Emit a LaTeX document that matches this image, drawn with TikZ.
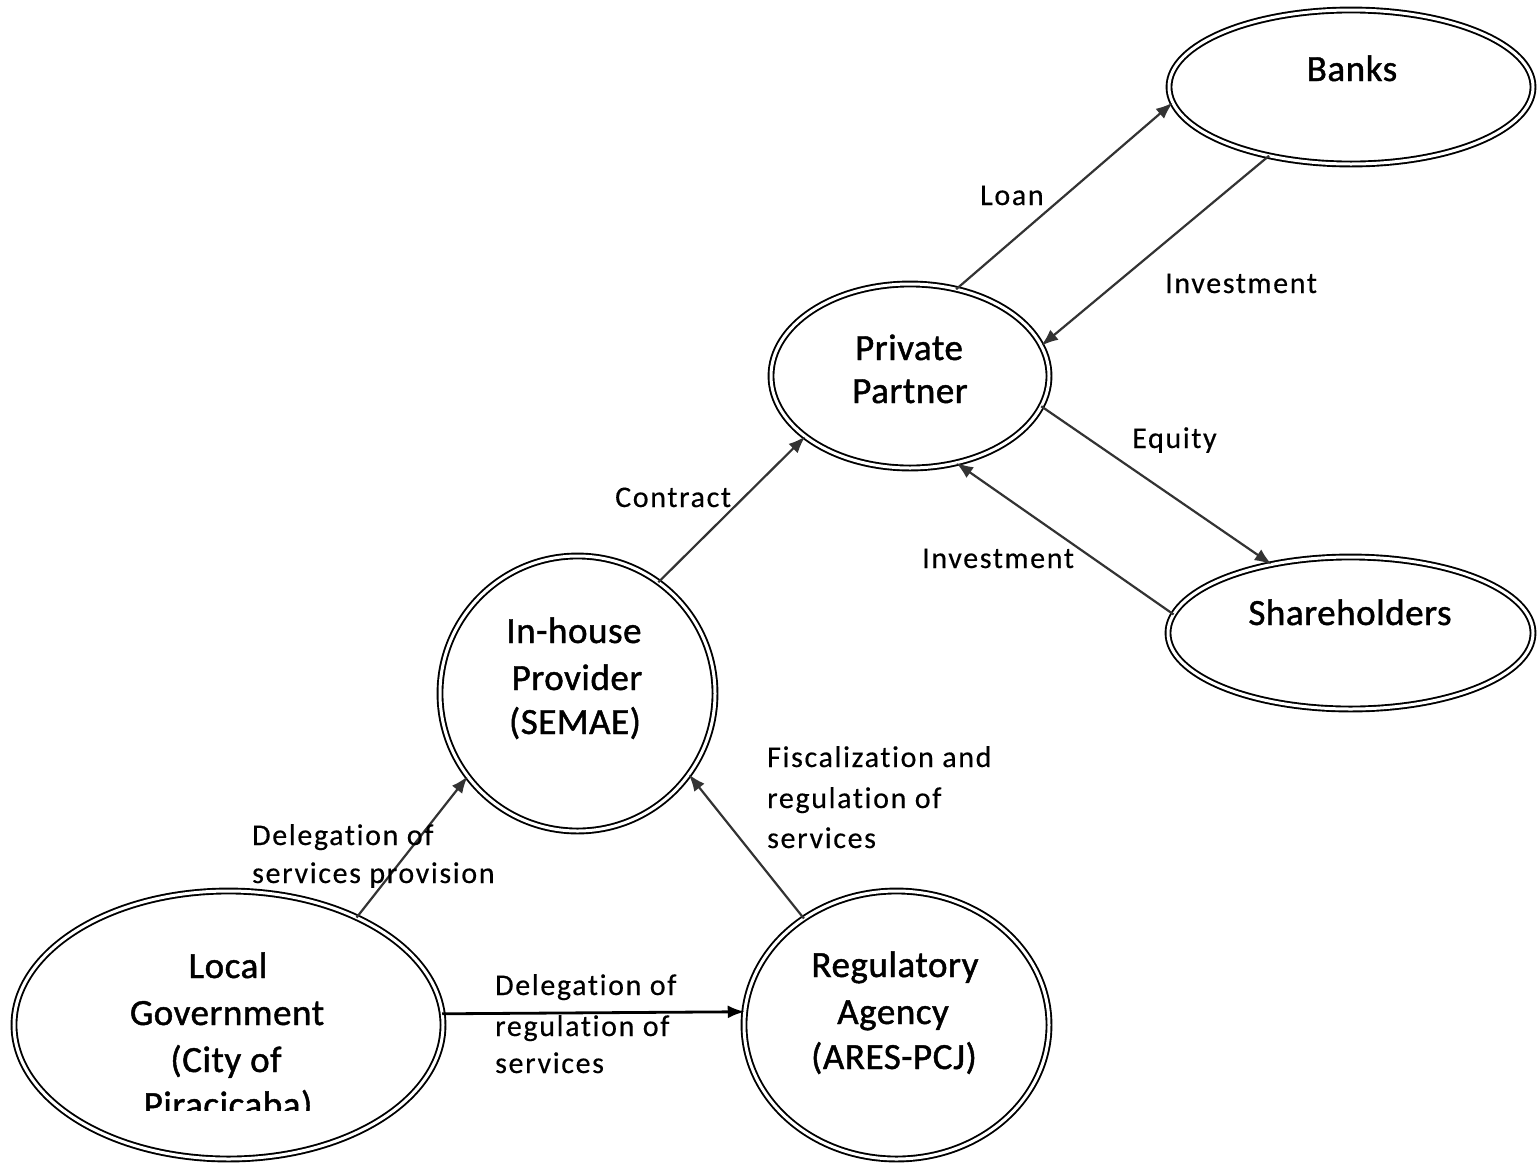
\documentclass[tikz,border=0pt]{standalone}
\usepackage{fontspec}
\setmainfont{Carlito}
\newfontfamily\lblfont[LetterSpace=5.5,Ligatures=NoCommon,FakeBold=0.4]{Carlito}
\newfontfamily\nodefont[LetterSpace=1.5,Ligatures=NoCommon,FakeBold=1.2]{Carlito}
\usetikzlibrary{shapes.geometric,arrows.meta}
\begin{document}
\begin{tikzpicture}[x=1pt,y=-1pt,
  ell/.style={ellipse, draw=black, double=white, double distance=3pt, line width=1.9pt, inner sep=0pt, outer sep=0pt},
  con/.style={draw=black!80, line width=2.2pt, -{Latex[length=17pt,width=13pt]}},
  lbl/.style={font=\lblfont\fontsize{30}{36}\selectfont, anchor=base west, inner sep=0pt},
  nt/.style={font=\nodefont\fontsize{37}{45}\selectfont, anchor=base, inner sep=0pt}]
\useasboundingbox (0,0) rectangle (1539,1165);
\fill[white] (0,0) rectangle (1539,1165);

% ellipses
\node[ell, minimum width=364pt, minimum height=154pt] (banks) at (1351,87) {};
\node[ell, minimum width=278pt, minimum height=184pt] (pp) at (910,376) {};
\node[ell, minimum width=275pt, minimum height=275pt] (ih) at (577.5,693.5) {};
\node[ell, minimum width=429pt, minimum height=268pt] (lg) at (228.5,1025) {};
\node[ell, minimum width=305pt, minimum height=268pt] (ra) at (896.5,1025) {};
\node[ell, minimum width=365pt, minimum height=152pt] (sh) at (1350.5,633) {};

% node texts
\node[nt] (banks-t) at (1352,81) {Banks};
\node[nt] (pp-t1) at (909,360) {Private};
\node[nt] (pp-t2) at (910,403) {Partner};
\node[nt] (ih-t1) at (574,643) {In-house};
\node[nt] (ih-t2) at (577,690) {Provider};
\node[nt] (ih-t3) at (575,734) {(SEMAE)};
\node[nt] (lg-t1) at (228,978) {Local};
\node[nt] (lg-t2) at (227,1025) {Government};
\node[nt] (lg-t3) at (226,1072) {(City of};
\begin{scope}
\clip (0,1070) rectangle (460,1110);
\node[nt] (lg-t4) at (228,1117) {Piracicaba)};
\end{scope}
\node[nt] (ra-t1) at (895,977) {Regulatory};
\node[nt] (ra-t2) at (893,1024) {Agency};
\node[nt] (ra-t3) at (894,1069) {(ARES-PCJ)};
\node[nt] (sh-t) at (1350,625) {Shareholders};

% connectors
\draw[con] (pp.62) -- (banks.185);
\draw[con] (banks.220) -- (pp.13);
\draw[con] (pp.-13.5) -- (sh.139.5);
\draw[con] (sh.174.5) -- (pp.-62);
\draw[con] (ih.54) -- (pp.210.5);
\draw[con] (lg.40.5) -- (ih.217);
\draw[con] (ra.131.5) -- (ih.-36.5);
\draw[con, draw=black, line width=2.8pt] (lg.3.2) -- (ra.175.5);

% labels
\node[lbl] (l-loan) at (980,205) {Loan};
\node[lbl] (l-inv1) at (1165,293) {Investment};
\node[lbl] (l-eq) at (1132,448) {Equity};
\node[lbl] (l-inv2) at (922,568) {Investment};
\node[lbl] (l-con) at (615,507) {Contract};
\node[lbl] (l-f1) at (767,767) {Fiscalization and};
\node[lbl] (l-f2) at (767,808) {regulation of};
\node[lbl] (l-f3) at (767,848) {services};
\node[lbl] (l-d1) at (252,845) {Delegation of};
\node[lbl] (l-d2) at (252,883) {services provision};
\node[lbl] (l-r1) at (495,995) {Delegation of};
\node[lbl] (l-r2) at (495,1036) {regulation of};
\node[lbl] (l-r3) at (495,1073) {services};
\end{tikzpicture}
\end{document}
